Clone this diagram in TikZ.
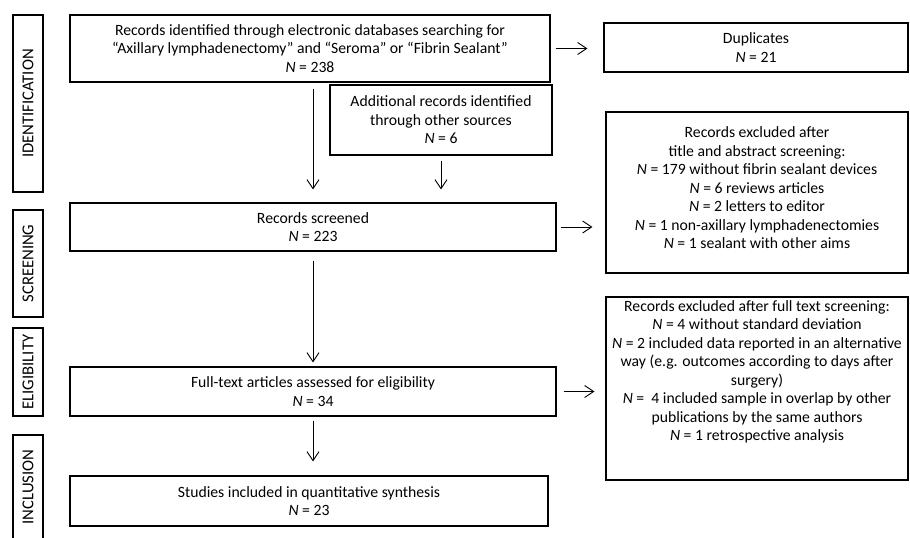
\documentclass[tikz,border=0pt]{standalone}
\usepackage{fontspec}
\setmainfont{Carlito}
\usetikzlibrary{arrows.meta,positioning}

\begin{document}
\begin{tikzpicture}[x=0.03cm,y=-0.03cm,font=\fontsize{13.4}{15.8}\selectfont,
  >={Straight Barb[length=2.7mm,width=3.6mm]},
  box/.style={draw,line width=0.9pt,align=center},
  stage/.style={draw,line width=0.9pt,rotate=90,minimum height=0.9cm,font=\fontsize{14.2}{17}\selectfont},
  arr/.style={->,line width=0.8pt}]
\useasboundingbox (0,0) rectangle (910,538);

% phases on the left
\node[stage,minimum width=5.31cm] (sid) at (28,103.5) {IDENTIFICATION};
\node[stage,minimum width=3.21cm] (sscr) at (28,263.5) {SCREENING};
\node[stage,minimum width=2.64cm] (seli) at (28,372) {ELIGIBILITY};
\node[stage,minimum width=3.12cm] (sinc) at (28,487) {INCLUSION};

% main column
\node[box,minimum width=14.4cm,minimum height=2.01cm] (rid) at (310,48.5)
  {Records identified through electronic databases searching for\\“Axillary lymphadenectomy” and “Seroma” or “Fibrin Sealant”\\\textit{N} = 238};
\node[box,minimum width=6.66cm,minimum height=2.1cm] (add) at (441,120)
  {Additional records identified\\through other sources\\\textit{N} = 6};
\node[box,minimum width=14.58cm,minimum height=1.44cm] (scr) at (313,227)
  {Records screened\\\textit{N} = 223};
\node[box,minimum width=14.58cm,minimum height=1.47cm] (ft) at (313,391.5)
  {Full-text articles assessed for eligibility\\\textit{N} = 34};
\node[box,minimum width=14.34cm,minimum height=1.5cm] (inc) at (309,501)
  {Studies included in quantitative synthesis\\\textit{N} = 23};

% excluded records
\node[box,minimum width=9.12cm,minimum height=1.47cm] (dup) at (756,47.5)
  {Duplicates\\\textit{N} = 21};
\node[box,minimum width=9.06cm,minimum height=4.83cm] (exc1) at (757,192.5) {};
\node[align=center,inner sep=0pt,below=0.45cm of exc1.north] (exc1txt)
  {Records excluded after\\title and abstract screening:\\
   \textit{N} = 179 without fibrin sealant devices\\
   \textit{N} = 6 reviews articles\\
   \textit{N} = 2 letters to editor\\
   \textit{N} = 1 non-axillary lymphadenectomies\\
   \textit{N} = 1 sealant with other aims};
\node[box,minimum width=9.06cm,minimum height=5.49cm] (exc2) at (757,388.5) {};
\node[align=center,inner sep=0pt,below=0.11cm of exc2.north] (exc2txt)
  {Records excluded after full text screening:\\
   \textit{N} = 4 without standard deviation\\
   \textit{N} = 2 included data reported in an alternative\\
   way (e.g. outcomes according to days after\\
   surgery)\\
   \textit{N} = \ 4 included sample in overlap by other\\
   publications by the same authors\\
   \textit{N} = 1 retrospective analysis};

% arrows
\draw[arr,shorten <=0.18cm,shorten >=0.39cm] (scr.north |- rid.south) -- (scr.north);
\draw[arr,shorten <=0.15cm,shorten >=0.39cm] (add.south) -- (add.south |- scr.north);
\draw[arr,shorten <=0.27cm,shorten >=0.12cm] (scr.south) -- (ft.north);
\draw[arr,shorten <=0.12cm,shorten >=0.42cm] (ft.south) -- (ft.south |- inc.north);
\draw[arr,shorten <=0.15cm,shorten >=0.48cm] (rid.east) -- (rid.east -| dup.west);
\draw[arr,shorten <=0.12cm,shorten >=0.39cm] (scr.east) -- (scr.east -| exc1.west);
\draw[arr,shorten <=0.21cm,shorten >=0.33cm] (ft.east) -- (ft.east -| exc2.west);
\end{tikzpicture}
\end{document}
